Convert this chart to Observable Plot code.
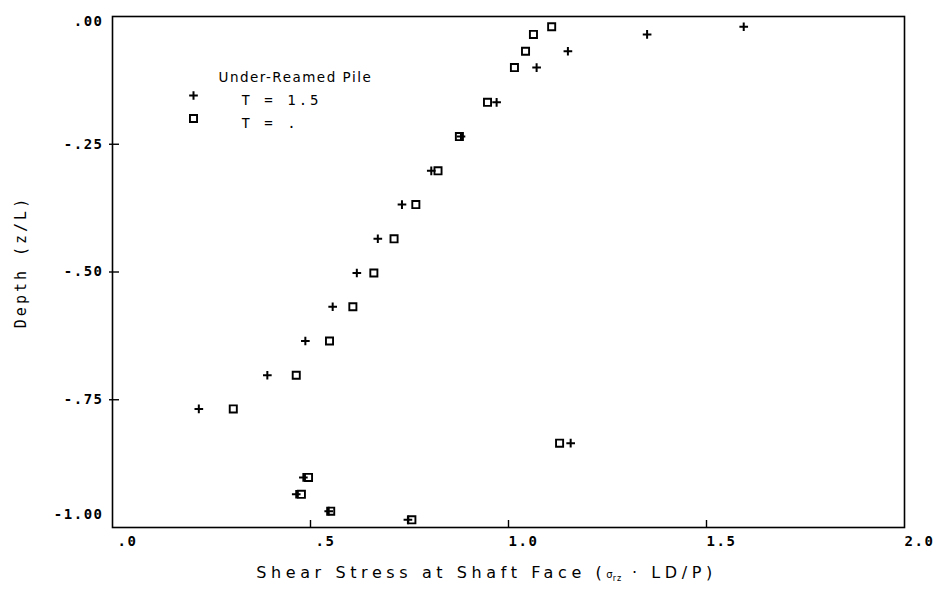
<!DOCTYPE html>
<html>
<head>
<meta charset="utf-8">
<script src="https://cdn.jsdelivr.net/npm/d3@7"></script>
<script src="https://cdn.jsdelivr.net/npm/@observablehq/plot@0.6"></script>
<style>
  html, body { margin: 0; padding: 0; background: #fff; }
  #chart svg { display: block; }
</style>
</head>
<body>
<div id="chart"></div>
<script>
// Depth (z/L) of each measured row
const depth = [-0.020, -0.035, -0.068, -0.100, -0.168, -0.235, -0.302, -0.368, -0.435, -0.502,
               -0.568, -0.635, -0.702, -0.768, -0.835, -0.902, -0.935, -0.968, -0.985];
// Shear stress, series "T = 1.5" (plus markers)
const stressT15 = [1.594, 1.350, 1.150, 1.071, 0.970, 0.880, 0.805, 0.731, 0.670, 0.617,
                   0.556, 0.487, 0.391, 0.218, 1.157, 0.482, 0.464, 0.546, 0.746];
// Shear stress, series "T = ." (square markers)
const stressTdot = [1.109, 1.063, 1.043, 1.015, 0.947, 0.876, 0.822, 0.766, 0.711, 0.660,
                    0.607, 0.548, 0.464, 0.305, 1.129, 0.495, 0.477, 0.551, 0.756];

const xTicks = [0, 0.5, 1.0, 1.5, 2.0];
const xTickLabels = [".0", ".5", "1.0", "1.5", "2.0"];
const yTicks = [0, -0.25, -0.5, -0.75, -1.0];
const yTickLabels = [".00", "-.25", "-.50", "-.75", "-1.00"];

const legendTitle = "Under-Reamed Pile";
const seriesNames = ["T = 1.5", "T = ."];
const xLabel = "Shear Stress at Shaft Face (σrz · LD/P)";
const yLabel = "Depth (z/L)";

const plusData = depth.map((d, i) => ({x: stressT15[i], y: d}));
const squareData = depth.map((d, i) => ({x: stressTdot[i], y: d}));

const tickFont = "'DejaVu Sans Mono', monospace";
const labelFont = "'DejaVu Sans', sans-serif";
const xFmt = d => xTickLabels[xTicks.indexOf(d)];
const yFmt = d => yTickLabels[yTicks.indexOf(d)];

const W = 934, H = 596;
const mL = 112, mR = 30, mT = 16, mB = 69;
const innerW = W - mL - mR, innerH = H - mT - mB;

const tickStyle = {tickSize: 0, label: null, fontFamily: tickFont, fontSize: 14, fontWeight: "bold", className: "ticklab"};

const chart = Plot.plot({
  width: W,
  height: H,
  marginLeft: mL,
  marginRight: mR,
  marginTop: mT,
  marginBottom: mB,
  style: {background: "#fff", color: "#000", fontFamily: tickFont, fontSize: "14px", overflow: "visible"},
  x: {domain: [0, 2], axis: null},
  y: {domain: [-1, 0], axis: null},
  marks: [
    Plot.frame({stroke: "#000", strokeWidth: 1.6}),
    // inward tick marks
    Plot.ruleX(xTicks.slice(1, -1), {x: d => d, insetTop: innerH - 7, stroke: "#000", strokeWidth: 1.4}),
    Plot.ruleY(yTicks.slice(1, -1), {y: d => d, insetLeft: -3, insetRight: innerW - 7, stroke: "#000", strokeWidth: 1.4}),
    // x tick labels
    Plot.axisX(xTicks, {...tickStyle, tickPadding: 9, tickFormat: xFmt, dx: 15}),
    // y tick labels
    Plot.axisY(yTicks.slice(1, -1), {...tickStyle, tickPadding: 9, tickFormat: yFmt}),
    Plot.axisY([yTicks[0]], {...tickStyle, tickPadding: 9, tickFormat: yFmt, dy: 5}),
    Plot.axisY([yTicks[4]], {...tickStyle, tickPadding: 9, tickFormat: yFmt, dy: -13}),
    // axis titles
    Plot.text([xLabel], {frameAnchor: "bottom", dy: 50, dx: -22, text: d => d, fontFamily: labelFont,
      fontSize: 16, fill: "#000", className: "xlabel"}),
    Plot.text([yLabel], {frameAnchor: "left", dx: -91, dy: -10, rotate: -90, textAnchor: "middle", text: d => d,
      fontFamily: tickFont, fontSize: 15, fill: "#000", className: "ylabel"}),
    // data
    Plot.dot(plusData, {x: "x", y: "y", symbol: "plus", r: 2.9, stroke: "#000", strokeWidth: 2, fill: "none"}),
    Plot.dot(squareData, {x: "x", y: "y", symbol: "square", r: 4.0, stroke: "#000", strokeWidth: 1.9, fill: "none"}),
    // legend
    Plot.text([legendTitle], {frameAnchor: "top-left", dx: 106, dy: 56, textAnchor: "start", text: d => d,
      fontFamily: labelFont, fontSize: 13.5, fill: "#000", className: "legtitle"}),
    Plot.dot([seriesNames[0]], {frameAnchor: "top-left", dx: 81, dy: 79, symbol: "plus", r: 2.9, stroke: "#000", strokeWidth: 2, fill: "none"}),
    Plot.dot([seriesNames[1]], {frameAnchor: "top-left", dx: 81, dy: 102, symbol: "square", r: 4.0, stroke: "#000", strokeWidth: 1.9, fill: "none"}),
    Plot.text([seriesNames[0]], {frameAnchor: "top-left", dx: 129, dy: 79, textAnchor: "start", text: d => d,
      fontFamily: tickFont, fontSize: 14, fill: "#000", className: "legitem"}),
    Plot.text([seriesNames[1]], {frameAnchor: "top-left", dx: 129, dy: 102, textAnchor: "start", text: d => d,
      fontFamily: tickFont, fontSize: 14, fill: "#000", className: "legitem"})
  ]
});

document.getElementById("chart").appendChild(chart);

const svg = d3.select(chart);
svg.selectAll("g.ticklab").attr("letter-spacing", 1.5);
svg.selectAll("g.xlabel").attr("letter-spacing", 4.6);
svg.selectAll("g.ylabel").attr("letter-spacing", 3);
svg.selectAll("g.legtitle").attr("letter-spacing", 1.5);
svg.selectAll("g.legitem").attr("letter-spacing", 3);

// subscript styling for the x-axis title
svg.selectAll("g.xlabel text").each(function() {
  const t = d3.select(this);
  const s = t.text();
  const i = s.indexOf("σrz");
  if (i < 0) return;
  t.text(null);
  t.append("tspan").text(s.slice(0, i));
  t.append("tspan").attr("font-size", 10).attr("letter-spacing", 0).text("σ");
  t.append("tspan").attr("font-size", 8).attr("dy", 3).attr("letter-spacing", 1).text("rz");
  t.append("tspan").attr("dy", -3).text(s.slice(i + 3));
});
</script>
</body>
</html>
